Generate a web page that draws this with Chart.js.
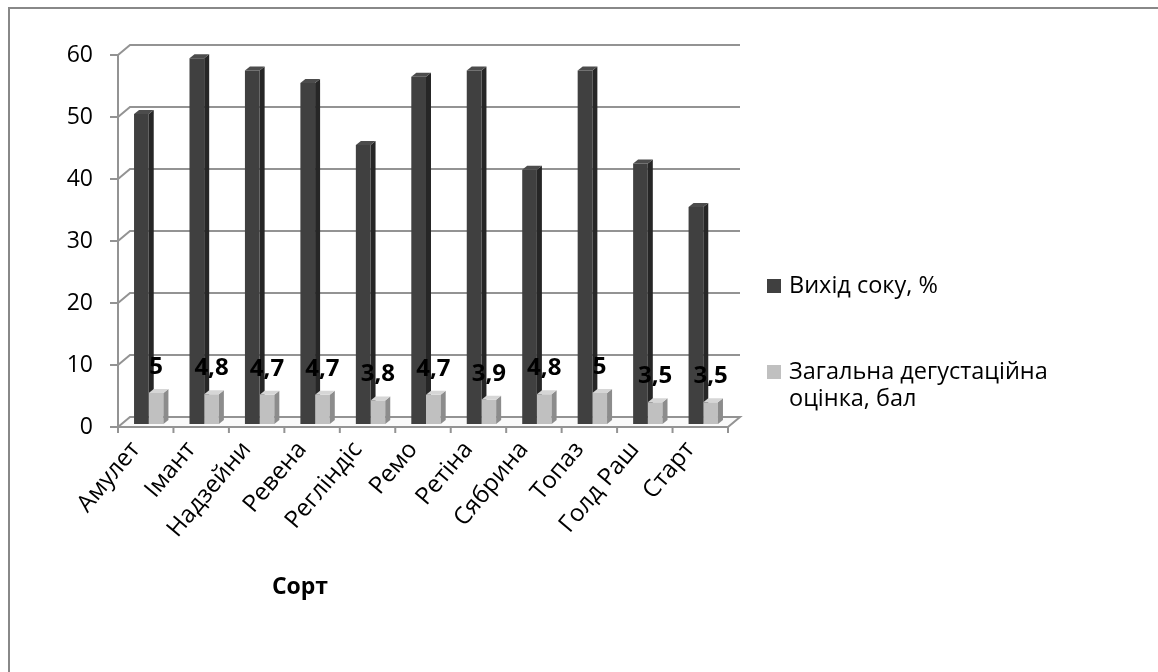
<!DOCTYPE html>
<html>
<head>
<meta charset="utf-8">
<script src="https://cdn.jsdelivr.net/npm/chart.js@4/dist/chart.umd.min.js"></script>
<style>
  html, body { margin: 0; padding: 0; background: #fff; }
  canvas { display: block; }
</style>
</head>
<body>
<canvas id="c" width="1158" height="672"></canvas>
<script>
// Сорти та показники
const categories = ['Амулет', 'Імант', 'Надзейни', 'Ревена', 'Реглiндіс', 'Ремо', 'Ретіна', 'Сябрина', 'Топаз', 'Голд Раш', 'Старт'];
const juiceYield = [50, 59, 57, 55, 45, 56, 57, 41, 57, 42, 35];
const tastingScore = [5, 4.8, 4.7, 4.7, 3.8, 4.7, 3.9, 4.8, 5, 3.5, 3.5];
const scoreLabels = ['5', '4,8', '4,7', '4,7', '3,8', '4,7', '3,9', '4,8', '5', '3,5', '3,5'];
const yTicks = [0, 10, 20, 30, 40, 50, 60];
const seriesNames = ['Вихід соку, %', 'Загальна дегустаційна оцінка, бал'];
const axisTitle = 'Сорт';

const FONT = "'Open Sans', 'Noto Sans', sans-serif";
const DEPTH_X = 12, DEPTH_Y = -10;   // back wall offset
const BAR_SHIFT_X = 3, BAR_SHIFT_Y = -3; // bars sit mid-depth
const FACE_X = 5, FACE_Y = -4;       // bar thickness
const GRID = '#939393';

function poly(ctx, pts, fill, stroke) {
  ctx.beginPath();
  ctx.moveTo(pts[0][0], pts[0][1]);
  for (let i = 1; i < pts.length; i++) ctx.lineTo(pts[i][0], pts[i][1]);
  ctx.closePath();
  if (fill) { ctx.fillStyle = fill; ctx.fill(); }
  if (stroke) { ctx.strokeStyle = stroke; ctx.lineWidth = 1; ctx.stroke(); }
}

function barGeom(el) {
  const p = el.getProps(['x', 'y', 'base', 'width'], true);
  return { L: p.x - p.width / 2, R: p.x + p.width / 2, T: p.y, B: p.base, x: p.x };
}

function drawFaces(ctx, el, side, top) {
  const g = barGeom(el);
  poly(ctx, [[g.R, g.T], [g.R + FACE_X, g.T + FACE_Y], [g.R + FACE_X, g.B + FACE_Y], [g.R, g.B]], side);
  poly(ctx, [[g.L, g.T], [g.L + FACE_X, g.T + FACE_Y], [g.R + FACE_X, g.T + FACE_Y], [g.R, g.T]], top);
}

const walls3d = {
  id: 'walls3d',
  beforeDatasetsDraw(chart) {
    const ctx = chart.ctx;
    const xs = chart.scales.x, ys = chart.scales.y;
    const left = xs.left, right = xs.right;
    const y0 = ys.getPixelForValue(0);

    ctx.save();
    // outer frame
    ctx.strokeStyle = '#888';
    ctx.lineWidth = 2;
    ctx.beginPath();
    ctx.moveTo(9, 672);
    ctx.lineTo(9, 8);
    ctx.lineTo(1158, 8);
    ctx.stroke();

    // floor
    poly(ctx, [[left, y0], [right, y0], [right + DEPTH_X, y0 + DEPTH_Y], [left + DEPTH_X, y0 + DEPTH_Y]], '#fafafa', null);
    ctx.strokeStyle = GRID;
    ctx.lineWidth = 2;
    ctx.beginPath();
    ctx.moveTo(left, y0); ctx.lineTo(right, y0);
    ctx.lineTo(right + DEPTH_X, y0 + DEPTH_Y);
    ctx.lineTo(left + DEPTH_X, y0 + DEPTH_Y);
    ctx.closePath();
    ctx.stroke();

    // back wall grid lines, wall edge and tick marks
    yTicks.forEach(v => {
      const y = ys.getPixelForValue(v);
      ctx.beginPath();
      ctx.moveTo(left - 8, y);
      ctx.lineTo(left, y);
      if (v !== 0) {
        ctx.lineTo(left + DEPTH_X, y + DEPTH_Y);
        ctx.lineTo(right + DEPTH_X, y + DEPTH_Y);
      }
      ctx.stroke();
    });
    // vertical axis
    ctx.beginPath();
    ctx.moveTo(left, ys.getPixelForValue(60));
    ctx.lineTo(left, y0);
    ctx.stroke();
    // category ticks
    const step = (right - left) / categories.length;
    for (let k = 0; k <= categories.length; k++) {
      const x = left + k * step;
      ctx.beginPath();
      ctx.moveTo(x, y0);
      ctx.lineTo(x, y0 + 6);
      ctx.stroke();
    }
    ctx.restore();

    // bars are drawn mid-depth
    ctx.save();
    ctx.translate(BAR_SHIFT_X, BAR_SHIFT_Y);
    chart.getDatasetMeta(0).data.forEach(el => drawFaces(ctx, el, '#262626', '#4c4c4c'));
  },
  afterDatasetsDraw(chart) {
    const ctx = chart.ctx;
    chart.getDatasetMeta(1).data.forEach(el => drawFaces(ctx, el, '#8c8c8c', '#d6d6d6'));
    ctx.restore();

    // value labels of the tasting score
    ctx.save();
    ctx.fillStyle = '#000';
    ctx.font = "bold 24px " + FONT;
    ctx.textAlign = 'center';
    ctx.textBaseline = 'middle';
    chart.getDatasetMeta(1).data.forEach((el, i) => {
      const g = barGeom(el);
      ctx.fillText(scoreLabels[i], g.x + BAR_SHIFT_X, g.T + BAR_SHIFT_Y - 26);
    });

    // axis title
    ctx.font = "bold 23px " + FONT;
    ctx.fillText(axisTitle, 300, 587);

    // legend
    ctx.textAlign = 'left';
    ctx.font = "23.5px " + FONT;
    ctx.fillStyle = '#404040';
    ctx.fillRect(767, 279, 14, 14);
    ctx.fillStyle = '#c0c0c0';
    ctx.fillRect(767, 365, 14, 14);
    ctx.fillStyle = '#000';
    ctx.fillText(seriesNames[0], 789, 286);
    ctx.fillText('Загальна дегустаційна', 789, 372);
    ctx.fillText('оцінка, бал', 789, 399);
    ctx.restore();
  }
};

new Chart(document.getElementById('c'), {
  type: 'bar',
  data: {
    labels: categories,
    datasets: [
      { label: seriesNames[0], data: juiceYield, backgroundColor: '#404040', categoryPercentage: 0.53, barPercentage: 1 },
      { label: seriesNames[1], data: tastingScore, backgroundColor: '#c0c0c0', categoryPercentage: 0.53, barPercentage: 1 }
    ]
  },
  options: {
    responsive: false,
    animation: false,
    devicePixelRatio: 1,
    layout: { padding: { left: 0, top: 55, right: 430, bottom: 0 } },
    plugins: { legend: { display: false }, tooltip: { enabled: false } },
    scales: {
      x: {
        grid: { display: false, drawTicks: false },
        border: { display: false },
        ticks: { minRotation: 50, maxRotation: 50, color: '#000', font: { family: FONT, size: 24 }, padding: 9, labelOffset: -10, autoSkip: false },
        afterFit(s) { s.height = 245; }
      },
      y: {
        min: 0, max: 60,
        grid: { display: false, drawTicks: false },
        border: { display: false },
        ticks: { stepSize: 10, padding: 25, color: '#000', font: { family: FONT, size: 23 } },
        afterFit(s) { s.width = 118; }
      }
    }
  },
  plugins: [walls3d]
});
</script>
</body>
</html>
